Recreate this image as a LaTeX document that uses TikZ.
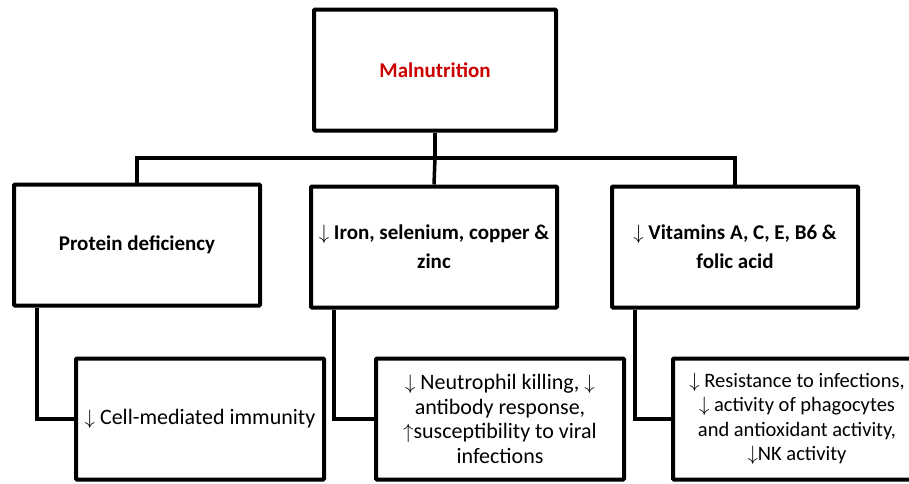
\documentclass[tikz,border=0pt]{standalone}
\usepackage{fontspec}
\setmainfont{Carlito}

\newcommand{\dn}{$\downarrow$}
\newcommand{\upa}{$\uparrow$}

\begin{document}
\begin{tikzpicture}[x=1pt,y=-1pt,
  box/.style={draw,line width=4pt,rounded corners=1pt,minimum width=246pt,
    minimum height=121pt,align=center,inner sep=1pt},
  head/.style={font=\fontsize{21}{29}\selectfont\bfseries},
  body/.style={font=\fontsize{22}{24.5}\selectfont},
  link/.style={line width=3.5pt}]
\clip (0,0) rectangle (909,483);
\useasboundingbox (0,0) rectangle (909,483);
\fill[white] (0,0) rectangle (909,483);
% top
\node[box,head,text=red!80!black,minimum width=242pt] (mal) at (435,70) {Malnutrition};
% causes
\node[box,head] (prot) at (137,245) {Protein deficiency};
\node[box,head] (mine) at (434,247) {\dn\ Iron, selenium, copper \&\\zinc};
\node[box,head] (vit) at (735,247) {\dn\ Vitamins A, C, E, B6 \&\\folic acid};
% effects
\node[box,body,minimum width=248pt] (cell) at (200,419) {\dn\ Cell-mediated immunity};
\node[box,body,minimum width=248pt] (neut) at (500,419) {\dn\ Neutrophil killing, \dn\\antibody response,\\\upa susceptibility to viral\\infections};
\node[box,body,font=\fontsize{20.5}{24.5}\selectfont,minimum width=248pt] (resi) at (797,419) {\dn\ Resistance to infections,\\\dn\ activity of phagocytes\\and antioxidant activity,\\\dn NK activity};
% links
\coordinate (bus) at (435,158);
\draw[link] (mal) -- (bus);
\draw[link] (prot.north) |- (bus) -| (vit.north);
\draw[link] (bus) -- (mine.north);
\draw[link] ([xshift=25pt]prot.south west) |- (cell.west);
\draw[link] ([xshift=25pt]mine.south west) |- (neut.west);
\draw[link] ([xshift=25pt]vit.south west) |- (resi.west);
\end{tikzpicture}
\end{document}
